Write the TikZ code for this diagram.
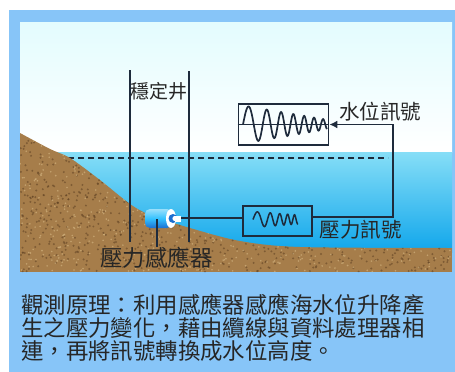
\documentclass[tikz,border=0pt]{standalone}
\usepackage{fontspec}
\setmainfont{Noto Sans CJK TC}
\usepackage{xcolor}
\usepackage{tikz}
\usetikzlibrary{arrows.meta,shapes}

\definecolor{frameblue}{HTML}{87C5F8}
\definecolor{skytop}{HTML}{E3FCFE}
\definecolor{seatop}{HTML}{86DEF7}
\definecolor{seabot}{HTML}{10A6EB}
\definecolor{dirt}{HTML}{A67D4A}
\definecolor{dirtdark}{HTML}{5E4022}
\definecolor{dirtlight}{HTML}{D8BA86}
\definecolor{sensorhi}{HTML}{9ADFFB}
\definecolor{sensorlo}{HTML}{1C6FD0}
\definecolor{ink}{HTML}{1E2B3C}
\definecolor{txt}{HTML}{262626}

\tikzset{
  wire/.style={draw=ink, line width=1.7pt},
  sigbox/.style={draw=ink, line width=1.7pt, inner sep=0pt},
  lbl/.style={text=txt, inner sep=0pt},
}

\begin{document}
\begin{tikzpicture}[x=1pt,y=-1pt]
        \useasboundingbox (0,0) rectangle (455,372);
        \fill[white] (0,0) rectangle (455,372);
        \fill[frameblue] (9,10) rectangle (455,372);
        % sky and sea
        \shade[top color=skytop, bottom color=white] (20,22) rectangle (452,152);
        \shade[top color=seatop, bottom color=seabot] (20,152) rectangle (452,252);
        \draw[ink, line width=1.5pt, dash pattern=on 6pt off 4pt] (68,158) -- (388,158);
        % sea floor
        \begin{scope}
            \clip plot[smooth] coordinates {(20,133) (50,149) (70,158) (100,180) (130,204) (150,215) (190,228) (240,241) (300,247) (452,248)} -- (452,272) -- (20,272) -- cycle;
            \fill[dirt] (20,120) rectangle (452,272);
            \pgfmathsetseed{11}
            \foreach \i in {1,...,1400} \fill[dirtdark, opacity=.55] (20+432*rnd, 128+144*rnd) circle (1.1pt);
            \foreach \i in {1,...,900} \fill[dirtlight, opacity=.6] (20+432*rnd, 128+144*rnd) circle (0.9pt);
        \end{scope}
        % stilling well
        \draw[ink, line width=1.4pt] (130,70) -- (130,242) (189,71) -- (189,242);
        \node[lbl, font=\fontsize{19}{20}\selectfont] (welllbl) at (159,91) {穩定井};
        % sensor
        \shade[top color=sensorhi, bottom color=sensorlo, middle color=blue!30!cyan!80!white, rounded corners=5pt] (145,209) rectangle (172,228);
        \fill[white] (171,218.5) ellipse [x radius=5pt, y radius=9.5pt];
        \fill[sensorlo] (173,218.5) circle (4.5pt);
        \fill[white] (175,218.5) circle (2.6pt);
        \fill[white] (175,215.5) rectangle (181,221.5);
        \coordinate (sensor) at (181,218);
        \coordinate (sbody) at (157,219);
        \node[lbl, font=\fontsize{22.5}{24}\selectfont] (senslbl) at (156.5,258) {壓力感應器};
        \draw[wire, line width=1.4pt] (sbody) -- (sbody |- senslbl.north);
        % signal boxes
        \node[sigbox, minimum width=90pt, minimum height=41pt] (lvlbox) at (283.5,124.5) {};
        \draw[ink, line width=1pt] (lvlbox.west) -- (lvlbox.east);
        \draw[ink, line width=1.7pt] plot[domain=0:1, samples=160, smooth] ({243+84*\x}, {124.5-19*(1-0.75*\x)*sin(360*(3.5*\x+3.2*\x*\x))});
        \node[sigbox, minimum width=69pt, minimum height=30pt] (presbox) at (277.5,221) {};
        \draw[ink, line width=1.5pt] plot[domain=0:1, samples=120, smooth] ({253+45*\x}, {219.5-8*(1-0.45*\x)*sin(360*(2.3*\x+2.5*\x*\x))});
        \node[lbl, font=\fontsize{20.5}{22}\selectfont] (lvllbl) at (380,112) {水位訊號};
        \node[lbl, font=\fontsize{20.5}{22}\selectfont] (preslbl) at (360.5,230) {壓力訊號};
        \draw[wire] (sensor) -- (sensor -| presbox.west);
        \draw[wire, -{Latex[length=8pt,width=8pt]}] ([yshift=4pt]presbox.east) -- ++(80,0) |- (lvlbox.east);
        % caption
        \node[lbl, anchor=base west, font=\fontsize{22.4}{24}\selectfont] (capa) at (21,313) {觀測原理：利用感應器感應海水位升降產};
        \node[lbl, anchor=base west, font=\fontsize{22.4}{24}\selectfont] (capb) at (21,336.3) {生之壓力變化，藉由纜線與資料處理器相};
        \node[lbl, anchor=base west, font=\fontsize{22.4}{24}\selectfont] (capc) at (21,359.6) {連，再將訊號轉換成水位高度。};
    \end{tikzpicture}
\end{document}
